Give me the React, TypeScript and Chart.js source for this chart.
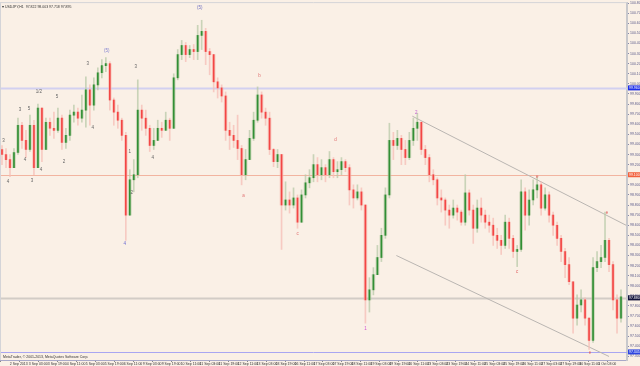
import React, { useEffect, useRef } from "react";
import { Chart, registerables } from "chart.js";

Chart.register(...registerables);

// ---- data (USDJPY, H1, sampled candles) ----
const firstOpen = 99.35;
const closes = [
  99.30, 99.25, 99.17, 99.32, 99.59, 99.44, 99.35, 99.59, 99.17, 99.76,
  99.35, 99.62, 99.56, 99.54, 99.66, 99.42, 99.49, 99.69, 99.72, 99.66,
  99.74, 99.94, 99.79, 99.99, 100.11, 100.18, 100.20, 99.84, 99.72, 99.64,
  99.49, 98.70, 99.05, 99.10, 99.74, 99.66, 99.56, 99.39, 99.44, 99.56,
  99.54, 99.64, 99.56, 100.06, 100.29, 100.38, 100.29, 100.34, 100.32, 100.48,
  100.52, 100.32, 100.29, 100.02, 99.96, 99.88, 99.54, 99.49, 99.44, 99.36,
  99.10, 99.25, 99.46, 99.64, 99.89, 99.72, 99.66, 99.35, 99.23, 99.30,
  98.80, 98.85, 98.80, 98.87, 98.63, 98.90, 99.02, 99.07, 99.20, 99.10,
  99.17, 99.10, 99.25, 99.13, 99.15, 99.23, 99.17, 98.95, 98.87, 98.93,
  98.80, 97.86, 97.96, 98.11, 98.28, 98.50, 98.90, 99.44, 99.39, 99.46,
  99.35, 99.27, 99.44, 99.56, 99.62, 99.35, 99.27, 99.10, 99.05, 98.87,
  98.85, 98.75, 98.70, 98.77, 98.73, 98.63, 98.92, 98.75, 98.57, 98.77,
  98.70, 98.63, 98.60, 98.50, 98.45, 98.40, 98.63, 98.47, 98.34, 98.36,
  98.93, 98.70, 98.85, 98.95, 99.00, 98.77, 98.90, 98.70, 98.60, 98.47,
  98.34, 98.21, 98.04, 97.68, 97.81, 97.86, 97.68, 97.46, 98.18, 98.24,
  98.28, 98.45, 98.21, 97.86, 97.68, 97.89,
];
const highs = [
  99.39, 99.36, 99.30, 99.36, 99.66, 99.62, 99.54, 99.69, 99.64, 99.80,
  99.76, 99.66, 99.66, 99.72, 99.76, 99.69, 99.56, 99.74, 99.79, 99.76,
  99.89, 100.07, 99.99, 100.06, 100.16, 100.24, 100.26, 100.22, 99.86, 99.79,
  99.66, 99.52, 99.15, 99.25, 100.04, 99.79, 99.74, 99.59, 99.56, 99.64,
  99.62, 99.72, 99.66, 100.10, 100.34, 100.43, 100.41, 100.38, 100.39, 100.58,
  100.63, 100.55, 100.35, 100.29, 100.06, 99.99, 99.92, 99.62, 99.59, 99.69,
  99.39, 99.35, 99.54, 99.72, 99.97, 99.92, 99.76, 99.72, 99.36, 99.35,
  99.05, 99.03, 98.93, 98.97, 98.90, 98.95, 99.10, 99.15, 99.30, 99.27,
  99.25, 99.20, 99.33, 99.27, 99.23, 99.27, 99.25, 99.20, 99.00, 99.00,
  98.97, 98.80, 98.08, 98.18, 98.40, 98.57, 98.97, 99.61, 99.52, 99.54,
  99.49, 99.44, 99.52, 99.66, 99.71, 99.59, 99.39, 99.30, 99.15, 99.07,
  98.95, 98.87, 98.80, 98.85, 98.80, 98.75, 99.10, 98.95, 98.80, 98.85,
  98.87, 98.75, 98.70, 98.67, 98.57, 98.50, 98.70, 98.67, 98.50, 98.40,
  99.05, 98.97, 98.95, 99.05, 99.08, 99.03, 98.97, 98.93, 98.73, 98.63,
  98.50, 98.37, 98.28, 97.86, 97.91, 97.96, 97.88, 97.68, 98.28, 98.34,
  98.40, 98.73, 98.47, 98.24, 97.91, 97.96,
];
const lows = [
  99.20, 99.17, 99.08, 99.20, 99.30, 99.36, 99.27, 99.33, 99.10, 99.20,
  99.23, 99.35, 99.49, 99.46, 99.52, 99.35, 99.36, 99.44, 99.62, 99.59,
  99.62, 99.57, 99.59, 99.74, 99.94, 100.06, 100.12, 99.74, 99.59, 99.56,
  99.44, 98.45, 98.70, 98.93, 99.07, 99.54, 99.49, 99.33, 99.35, 99.44,
  99.47, 99.54, 99.44, 99.56, 100.04, 100.24, 100.22, 100.26, 100.24, 100.24,
  100.34, 100.19, 100.09, 99.92, 99.86, 99.82, 99.44, 99.35, 99.37, 99.25,
  99.00, 99.05, 99.35, 99.44, 99.62, 99.66, 99.59, 99.30, 99.18, 99.17,
  98.36, 98.75, 98.72, 98.77, 98.57, 98.63, 98.87, 98.97, 99.03, 99.03,
  99.05, 99.03, 99.07, 99.07, 99.07, 99.10, 99.13, 98.80, 98.77, 98.85,
  98.75, 97.63, 97.74, 97.91, 98.11, 98.24, 98.47, 98.87, 99.25, 99.35,
  99.20, 99.20, 99.25, 99.39, 99.44, 99.30, 99.20, 99.03, 99.00, 98.80,
  98.73, 98.60, 98.57, 98.67, 98.65, 98.60, 98.60, 98.70, 98.42, 98.53,
  98.63, 98.57, 98.53, 98.40, 98.37, 98.31, 98.37, 98.37, 98.28, 98.19,
  98.34, 98.55, 98.60, 98.80, 98.87, 98.70, 98.75, 98.63, 98.50, 98.40,
  98.24, 98.08, 98.01, 97.53, 97.61, 97.74, 97.61, 97.37, 97.44, 98.14,
  98.18, 98.24, 98.14, 97.76, 97.53, 97.64,
];

const timeLabels = [
  "2 Sep 2013", "3 Sep 03:00", "3 Sep 19:00", "4 Sep 11:00", "5 Sep 03:00", "5 Sep 19:00",
  "6 Sep 11:00", "9 Sep 03:00", "9 Sep 19:00", "10 Sep 11:00", "11 Sep 03:00", "11 Sep 19:00",
  "12 Sep 11:00", "13 Sep 03:00", "13 Sep 19:00", "16 Sep 11:00", "17 Sep 03:00", "17 Sep 19:00",
  "18 Sep 11:00", "19 Sep 03:00", "19 Sep 19:00", "20 Sep 11:00", "23 Sep 03:00", "23 Sep 19:00",
  "24 Sep 11:00", "25 Sep 03:00", "25 Sep 19:00", "26 Sep 11:00", "27 Sep 03:00", "27 Sep 19:00",
  "30 Sep 11:00", "1 Oct 03:00",
];
const priceTicks = [
  100.8, 100.7, 100.6, 100.5, 100.4, 100.3, 100.2, 100.1, 100.0, 99.9, 99.8, 99.7, 99.6, 99.5,
  99.4, 99.3, 99.2, 99.1, 99.0, 98.9, 98.8, 98.7, 98.6, 98.5, 98.4, 98.3, 98.2, 98.1, 98.0,
  97.9, 97.8, 97.7, 97.6, 97.5, 97.4, 97.3,
];

// horizontal levels
const levelPrices = [99.96, 99.1, 97.88, 97.345];
const levelLineColors = ["#d2d0f0", "#f2b4a0", "#d2ccc6", "#a9a6f2"];
const levelLineWidths = [2, 1, 2, 1];
const levelBoxColors = ["#1e2ee8", "#f2603c", "#14143c", "#2c44e0"];

// trend channel: [slotStart, priceStart, slotEnd, priceEnd]
const upperTrend = [102.75, 99.68, 156.25, 98.6];
const lowerTrend = [98.75, 98.3, 152.0, 97.3];

// wave labels
const waveText = ["3", "4", "3", "4", "5", "3", "1/2", "4", "5", "2", "3", "4", "(5)", "4", "1", "2", "3", "4", "(5)", "a", "b", "c", "d", "1", "2", "c", "e", "e", "e"];
const waveSlot = [0.4, 1.5, 4.5, 5.75, 6.75, 7.5, 9.25, 9.75, 13.75, 15.5, 21.5, 22.75, 26.25, 30.75, 32, 32.5, 33.5, 37.75, 49.5, 60.5, 64.5, 74, 83.5, 91, 103.75, 129, 134, 151.5, 147.25];
const wavePrice = [99.44, 99.03, 99.74, 99.25, 99.75, 99.04, 99.92, 99.15, 99.87, 99.23, 100.2, 99.57, 100.33, 98.42, 99.33, 98.92, 100.17, 99.27, 100.75, 98.89, 100.08, 98.52, 99.45, 97.57, 99.71, 98.14, 99.08, 98.72, 97.34];
const waveColor = ["#666", "#666", "#666", "#666", "#666", "#666", "#666", "#666", "#666", "#666", "#666", "#666", "#8080d0", "#6a6ad0", "#666", "#666", "#666", "#666", "#7070c0", "#e07070", "#e07070", "#e07070", "#e07070", "#d050d0", "#c060d0", "#e06060", "#e06060", "#e06060", "#e06060"];

const N_SLOTS = 157;
const HOURS = 512;
const BG = "#faf0e6";
const FONT = "'Liberation Sans', Arial, sans-serif";

export default function App() {
  const ref = useRef<HTMLCanvasElement | null>(null);

  useEffect(() => {
    document.body.style.margin = "0";
    const canvas = ref.current;
    if (!canvas) return;

    const opens = closes.map((c, i) => (i === 0 ? firstOpen : closes[i - 1]));
    const up = closes.map((c, i) => c >= opens[i]);
    const wicks = closes.map((c, i) => [Math.min(lows[i], opens[i], c), Math.max(highs[i], opens[i], c)]);
    const bodies = closes.map((c, i) => [opens[i], c]);
    const slotLabels = Array.from({ length: N_SLOTS }, (_, i) => String(i));

    const overlay = {
      id: "overlay",
      beforeDraw(chart: any) {
        const { ctx, width, height } = chart;
        ctx.save();
        ctx.fillStyle = BG;
        ctx.fillRect(0, 0, width, height);
        ctx.restore();
      },
      beforeDatasetsDraw(chart: any) {
        const { ctx, chartArea } = chart;
        const x = chart.scales.x;
        const y = chart.scales.y;
        ctx.save();
        levelPrices.forEach((p, i) => {
          const py = Math.round(y.getPixelForValue(p)) + 0.5;
          ctx.strokeStyle = levelLineColors[i];
          ctx.lineWidth = levelLineWidths[i];
          ctx.beginPath();
          ctx.moveTo(chartArea.left, py);
          ctx.lineTo(chartArea.right, py);
          ctx.stroke();
        });
        ctx.strokeStyle = "#bab6b2";
        ctx.lineWidth = 1;
        [upperTrend, lowerTrend].forEach((t) => {
          ctx.beginPath();
          ctx.moveTo(x.getPixelForValue(t[0]), y.getPixelForValue(t[1]));
          ctx.lineTo(x.getPixelForValue(t[2]), y.getPixelForValue(t[3]));
          ctx.stroke();
        });
        ctx.restore();
      },
      afterDraw(chart: any) {
        const { ctx, chartArea } = chart;
        const x = chart.scales.x;
        const y = chart.scales.y;
        ctx.save();
        ctx.strokeStyle = "#d4d4d8";
        ctx.lineWidth = 1;
        ctx.beginPath();
        ctx.moveTo(0, chartArea.top - 0.5);
        ctx.lineTo(chartArea.right, chartArea.top - 0.5);
        ctx.moveTo(0.5, chartArea.top);
        ctx.lineTo(0.5, chartArea.bottom);
        ctx.stroke();
        ctx.font = `4.5px ${FONT}`;
        ctx.textAlign = "center";
        ctx.textBaseline = "middle";
        waveText.forEach((t, i) => {
          ctx.fillStyle = waveColor[i];
          ctx.fillText(t, x.getPixelForValue(waveSlot[i]), y.getPixelForValue(wavePrice[i]));
        });
        ctx.textAlign = "left";
        ctx.font = `3.5px ${FONT}`;
        ctx.fillStyle = "#333";
        ctx.fillText("\u25BE USDJPY,H1  97.822 98.003 97.718 97.895", 2, chartArea.top + 4);
        ctx.fillText("MetaTrader, \u00A9 2001-2013, MetaQuotes Software Corp.", 3, chartArea.bottom - 3);
        levelPrices.forEach((p, i) => {
          const py = y.getPixelForValue(p);
          ctx.fillStyle = levelBoxColors[i];
          ctx.fillRect(chartArea.right + 1, py - 2.5, 14, 5);
          ctx.fillStyle = "#ffffff";
          ctx.fillText(p.toFixed(3), chartArea.right + 2, py + 0.3);
        });
        ctx.restore();
      },
    };

    const chart = new Chart(canvas, {
      type: "bar",
      data: {
        labels: slotLabels,
        datasets: [
          {
            label: "body",
            data: bodies as any,
            backgroundColor: up.map((u) => (u ? "rgba(34,136,40,0.9)" : "rgba(242,56,56,0.9)")),
            barThickness: 1,
            grouped: false,
            order: 1,
            minBarLength: 1,
          },
          {
            label: "ghost",
            data: bodies as any,
            backgroundColor: up.map((u) => (u ? "rgba(176,200,158,0.6)" : "rgba(248,182,172,0.6)")),
            barThickness: 3,
            grouped: false,
            order: 2,
            minBarLength: 1,
          },
          {
            label: "wick",
            data: wicks as any,
            backgroundColor: up.map((u) => (u ? "rgba(184,202,168,0.75)" : "rgba(246,190,182,0.75)")),
            barThickness: 1,
            grouped: false,
            order: 3,
          },
        ],
      },
      options: {
        responsive: false,
        animation: false,
        events: [],
        layout: { padding: { top: 3, left: 0, right: 0, bottom: 0 } },
        plugins: { legend: { display: false }, tooltip: { enabled: false } },
        scales: {
          x: { type: "category", display: false, offset: true },
          x2: {
            type: "linear",
            position: "bottom",
            min: 0,
            max: HOURS,
            afterBuildTicks: (scale: any) => {
              scale.ticks = timeLabels.map((_, i) => ({ value: i * 16 }));
            },
            afterFit: (scale: any) => {
              scale.height = 6;
            },
            ticks: {
              autoSkip: false,
              maxRotation: 0,
              align: "start",
              padding: 0,
              font: { size: 3.5, family: FONT },
              color: "#333",
              callback: (v: any) => timeLabels[Math.round(v / 16)] ?? "",
            },
            grid: { drawOnChartArea: false, tickLength: 2, color: "#888" },
            border: { color: "#a8a8c8" },
          },
          y: {
            type: "linear",
            position: "right",
            min: 97.265,
            max: 100.8,
            afterBuildTicks: (scale: any) => {
              scale.ticks = priceTicks.map((v) => ({ value: v }));
            },
            afterFit: (scale: any) => {
              scale.width = 13;
            },
            ticks: {
              autoSkip: false,
              padding: 1,
              font: { size: 3.5, family: FONT },
              color: "#5a5a8a",
              callback: (v: any) => Number(v).toFixed(3),
            },
            grid: { drawOnChartArea: false, tickLength: 2, color: "#8888aa" },
            border: { color: "#c8c8cc", width: 2 },
          },
        },
      },
      plugins: [overlay],
    });

    return () => chart.destroy();
  }, []);

  return (
    <div style={{ width: 640, height: 366, background: BG }}>
      <canvas ref={ref} width={640} height={366} style={{ display: "block" }} />
    </div>
  );
}
